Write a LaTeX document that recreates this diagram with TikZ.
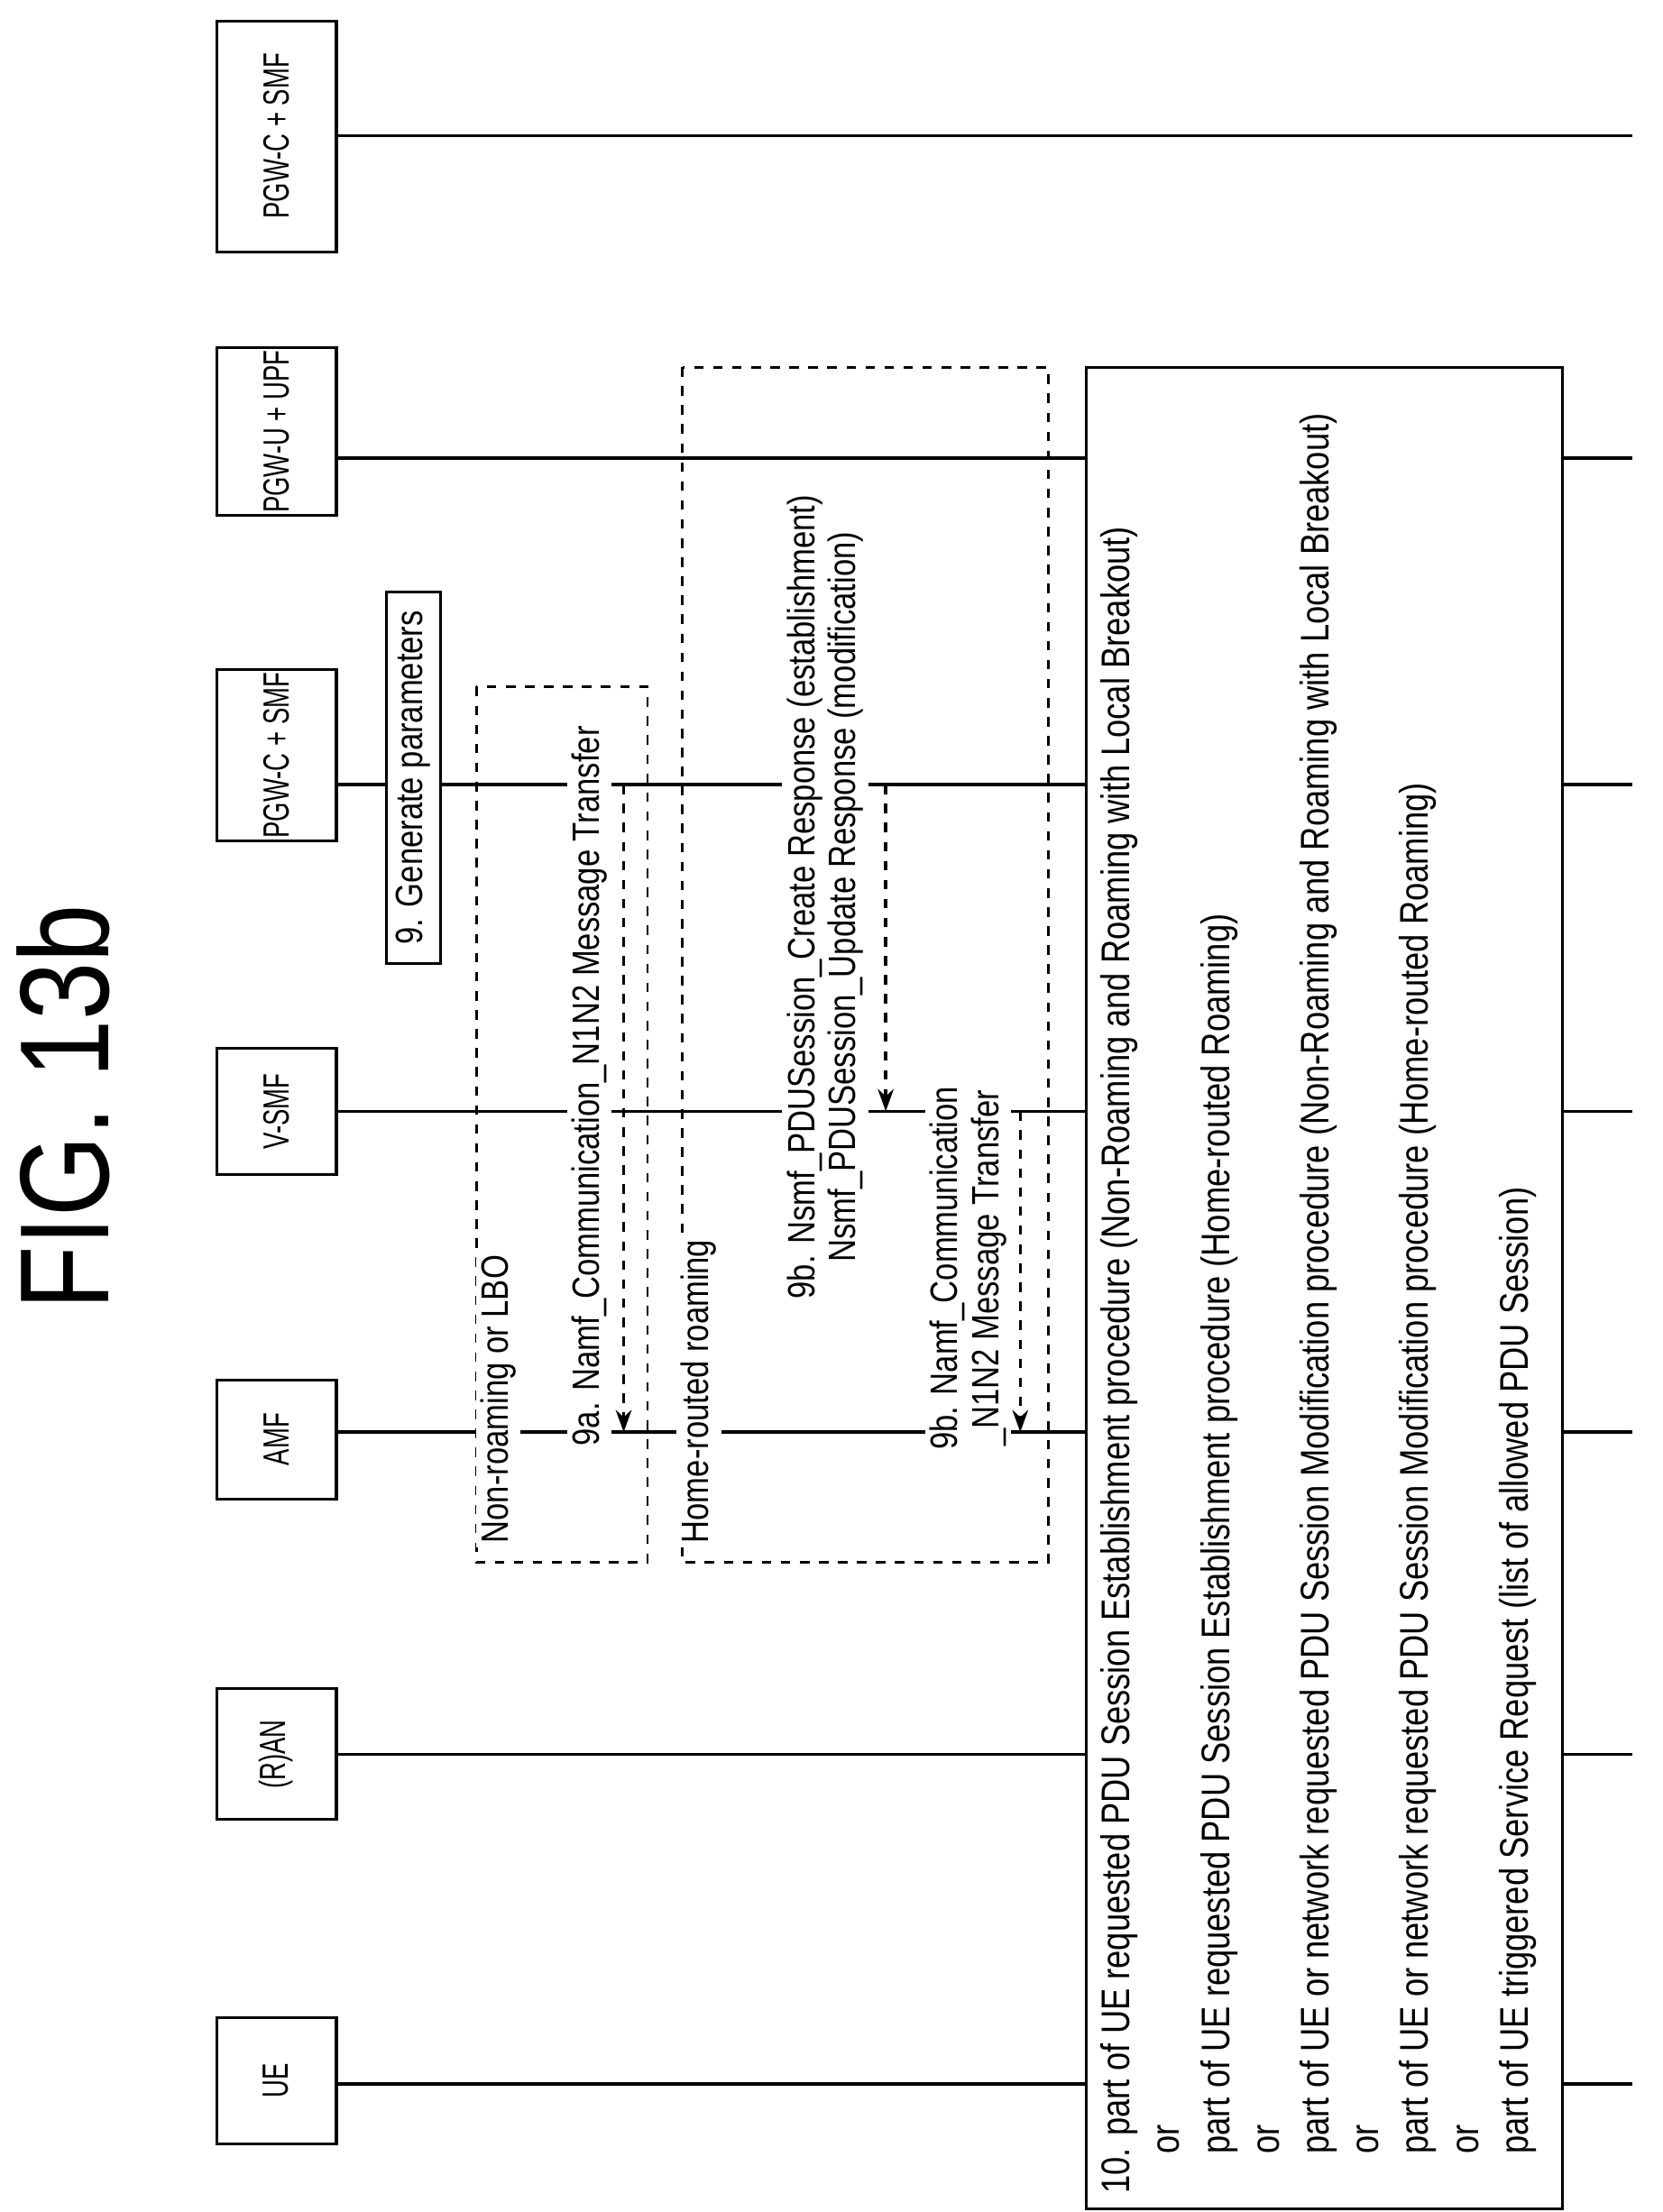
\documentclass[tikz,border=0pt]{standalone}
\usepackage{fontspec}
\setmainfont[FakeStretch=0.82]{Liberation Sans}
\newfontfamily\hdfont[FakeStretch=0.68]{Liberation Sans}
\usetikzlibrary{arrows.meta}
\begin{document}
\begin{tikzpicture}[x=0.01554cm,y=-0.01554cm,
  every node/.style={font=\fontsize{12}{14}\selectfont},
  hd/.style={rotate=90,font=\hdfont\fontsize{11.5}{13}\selectfont},
  life/.style={line width=1pt},
  lbl/.style={rotate=90,fill=white,inner sep=1.5pt},
  dbox/.style={dashed,line width=0.8pt},
  msg/.style={dashed,line width=1pt,-{Stealth[length=7pt,width=5pt]}}]
\useasboundingbox (0,0) rectangle (1186,1578.5);
\node[rotate=90,font=\fontsize{40}{44}\selectfont] (title) at (45,790) {FIG. 13b};
% lifelines
\foreach \n/\y in {ue/1487,ran/1252,amf/1022,vsmf/793,pgwc/560,pgwu/327,pgwc2/97}{
  \coordinate (\n s) at (240,\y); \coordinate (\n e) at (1165,\y);
  \draw[life] (\n s) -- (\n e);}
% header boxes
\draw[line width=0.9pt,fill=white] (155,1440) rectangle (240,1530);
\node[hd] (hue) at (197,1485) {UE};
\draw[line width=0.9pt,fill=white] (155,1205) rectangle (240,1298);
\node[hd] (hran) at (197,1252) {(R)AN};
\draw[line width=0.9pt,fill=white] (155,985) rectangle (240,1070);
\node[hd] (hamf) at (197,1027) {AMF};
\draw[line width=0.9pt,fill=white] (155,748) rectangle (240,838);
\node[hd] (hvsmf) at (197,793) {V-SMF};
\draw[line width=0.9pt,fill=white] (155,478) rectangle (240,600);
\node[hd] (hpgwc) at (197,539) {PGW-C + SMF};
\draw[line width=0.9pt,fill=white] (155,248) rectangle (240,368);
\node[hd] (hpgwu) at (197,308) {PGW-U + UPF};
\draw[line width=0.9pt,fill=white] (155,15) rectangle (240,180);
\node[hd] (hpgwc2) at (197,97) {PGW-C + SMF};
% generate parameters
\node[draw,line width=0.9pt,fill=white,rotate=90,inner ysep=3pt,inner xsep=6pt] (gen) at (295,555) {9. Generate parameters};
% dashed boxes
\draw[dbox] (340,490) rectangle (462,1115);
\draw[dbox] (487,262) rectangle (748,1115);
\node[lbl,anchor=south west] (nr) at (372,1105) {Non-roaming or LBO};
\node[lbl,anchor=south west] (hr) at (515,1105) {Home-routed roaming};
% messages
\coordinate (a1) at (445,560); \coordinate (a2) at (445,1022);
\draw[msg] (a1) -- (a2);
\node[lbl,anchor=south] (t9a) at (437,775) {9a. Namf\_Communication\_N1N2 Message Transfer};
\coordinate (b1) at (632,560); \coordinate (b2) at (632,793);
\draw[msg] (b1) -- (b2);
\node[lbl,anchor=south,align=center,font=\fontsize{12}{13}\selectfont] (t9b) at (620,640) {9b. Nsmf\_PDUSession\_Create Response (establishment)\\Nsmf\_PDUSession\_Update Response (modification)};
\coordinate (c1) at (728,793); \coordinate (c2) at (728,1022);
\draw[msg] (c1) -- (c2);
\node[lbl,anchor=south,align=center,font=\fontsize{12}{13}\selectfont] (t9c) at (722,905) {9b. Namf\_Communication\\\_N1N2 Message Transfer};
% big box
\draw[line width=0.9pt,fill=white] (775,262) rectangle (1115,1576);
\node[rotate=90,anchor=north west,align=left,inner sep=0pt,font=\fontsize{12.6}{15.7}\selectfont] (t10) at (785,1566) {10. part of UE requested PDU Session Establishment procedure (Non-Roaming and Roaming with Local Breakout)\\
\quad or\\
\quad part of UE requested PDU Session Establishment procedure (Home-routed Roaming)\\
\quad or\\
\quad part of UE or network requested PDU Session Modification procedure (Non-Roaming and Roaming with Local Breakout)\\
\quad or\\
\quad part of UE or network requested PDU Session Modification procedure (Home-routed Roaming)\\
\quad or\\
\quad part of UE triggered Service Request (list of allowed PDU Session)};
\end{tikzpicture}
\end{document}
